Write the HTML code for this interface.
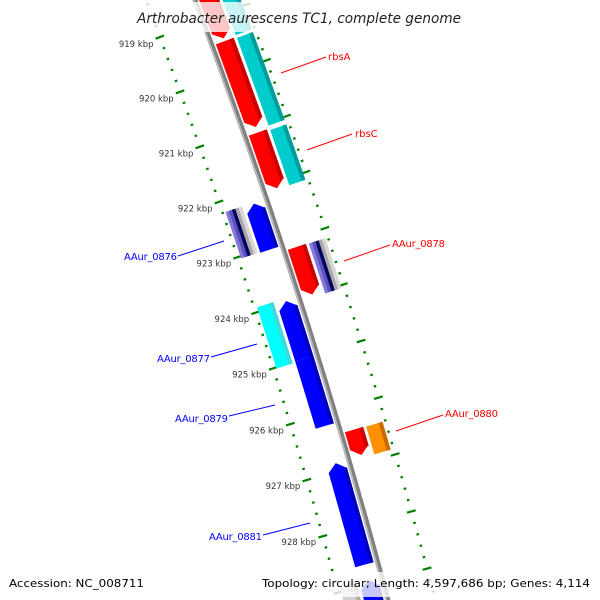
<!DOCTYPE html>
<html><head><meta charset="utf-8"><style>
html,body{margin:0;padding:0;background:#fff;width:600px;height:600px;overflow:hidden}
svg{display:block;overflow:hidden}
</style></head><body>
<svg id="map" width="600" height="600" viewBox="0 0 600 600" xmlns="http://www.w3.org/2000/svg">
<g id="backbone"></g>
<g id="rulers"></g>
<g id="features"></g>
<g id="labels" font-family="'DejaVu Sans','Liberation Sans',sans-serif" font-size="10">
  <g><line x1="281" y1="73" x2="326" y2="57" stroke="#ff0000" stroke-width="1"/><text x="328" y="60" fill="#ff0000">rbsA</text></g>
  <g><line x1="307" y1="150" x2="352" y2="134" stroke="#ff0000" stroke-width="1"/><text x="355" y="137" fill="#ff0000">rbsC</text></g>
  <g><line x1="344" y1="261" x2="390" y2="245" stroke="#ff0000" stroke-width="1"/><text x="392" y="247" fill="#ff0000" textLength="53">AAur_0878</text></g>
  <g><line x1="396" y1="431" x2="443" y2="415" stroke="#ff0000" stroke-width="1"/><text x="445" y="417" fill="#ff0000" textLength="53">AAur_0880</text></g>
  <g><line x1="178" y1="256" x2="224" y2="241" stroke="#0000ff" stroke-width="1"/><text x="177" y="260" fill="#0000ff" text-anchor="end" textLength="53">AAur_0876</text></g>
  <g><line x1="211" y1="357" x2="257" y2="344" stroke="#0000ff" stroke-width="1"/><text x="210" y="362" fill="#0000ff" text-anchor="end" textLength="53">AAur_0877</text></g>
  <g><line x1="229" y1="416" x2="275" y2="405" stroke="#0000ff" stroke-width="1"/><text x="228" y="422" fill="#0000ff" text-anchor="end" textLength="53">AAur_0879</text></g>
  <g><line x1="263" y1="535" x2="310" y2="523" stroke="#0000ff" stroke-width="1"/><text x="262" y="540" fill="#0000ff" text-anchor="end" textLength="53">AAur_0881</text></g>
</g>
<rect x="130" y="2" width="340" height="30" fill="#fff" opacity="0.78"/>
<text x="299" y="23" text-anchor="middle" font-family="'DejaVu Sans','Liberation Sans',sans-serif" font-style="italic" font-size="14" fill="#222" textLength="324" lengthAdjust="spacingAndGlyphs">Arthrobacter aurescens TC1, complete genome</text>
<rect x="255" y="572" width="342" height="25" fill="#fff" opacity="0.78"/>
<text x="9" y="587" font-family="'DejaVu Sans','Liberation Sans',sans-serif" font-size="11" fill="#000" textLength="135" lengthAdjust="spacingAndGlyphs">Accession: NC_008711</text>
<text x="590" y="587" text-anchor="end" font-family="'DejaVu Sans','Liberation Sans',sans-serif" font-size="11" fill="#000" textLength="328" lengthAdjust="spacingAndGlyphs">Topology: circular; Length: 4,597,686 bp; Genes: 4,114</text>
</svg>
<script>
// ---- data (kbp) ----
const featNames  = ['orf-top','rbsA','rbsC','AAur_0878','AAur_0880','cog-top','cog-rbsA','cog-rbsC','cog-0878','cog-0880','AAur_0876','AAur_0877','AAur_0879','AAur_0881','orf-bottom','cog-0876','cog-0877','cog-bottom'];
const featStart  = [917.5,919.45,921.1,923.15,926.4, 917.5,919.47,921.13,923.16,926.41, 922.22,923.97,925.0,926.86,928.93, 922.2,923.92,928.9];
const featEnd    = [919.4,921.0,922.1,924.0,926.85, 919.42,921.05,922.12,924.05,926.9, 923.05,925.0,926.2,928.66,931.0, 923.04,925.02,931.0];
const featStrand = [1,1,1,1,1, 1,1,1,1,1, -1,-1,-1,-1,-1, -1,-1,-1];
const featTrack  = ['F1','F1','F1','F1','F1','F2','F2','F2','F2','F2','R1','R1','R1','R1','R1','R2','R2','R2'];
const featColor  = ['red','red','red','red','red','cyan','cyan','cyan','striped','orange','blue','blue','blue','blue','blue','striped','cyan2','gray'];
const featHead   = [1,1,1,1,1, 0,0,0,0,0, 1,1,0,1,1, 0,0,0];
const tickStart = 917, tickEnd = 931, tickStep = 0.2;
const labelTicks = [919,920,921,922,923,924,925,926,927,928];

// ---- geometry ----
const CX=-5532, CY=2172, K0=919, TH0=-20.56, DEG_PER_KB=0.55;
const R_BACK=6125;
const tracks={F1:[6129,6148],F2:[6151,6168],R1:[6102,6121],R2:[6082,6099]};
const palette={red:['#ff0000','#c80000'],cyan:['#00cccc','#009c9c'],cyan2:['#00ffff','#40d8d8'],orange:['#ff9000','#c86a00'],blue:['#0000ff','#0000c0'],gray:['#cfcfcf','#a8a8a8']};
function th(kb){return (TH0+(kb-K0)*DEG_PER_KB)*Math.PI/180;}
function P(r,kb){const t=th(kb);return [CX+r*Math.cos(t),CY+r*Math.sin(t)];}
function pts(list){return list.map(p=>{const q=P(p[0],p[1]);return q[0].toFixed(2)+','+q[1].toFixed(2);}).join(' ');}
const NS='http://www.w3.org/2000/svg';
function mk(tag,attrs,parent){const e=document.createElementNS(NS,tag);for(const k in attrs)e.setAttribute(k,attrs[k]);parent.appendChild(e);return e;}

// backbone
const bb=document.getElementById('backbone');
function arc(r,k1,k2){const a=P(r,k1),b=P(r,k2);return 'M'+a[0]+','+a[1]+' A'+r+','+r+' 0 0 1 '+b[0]+','+b[1];}
const b1=mk('path',{d:arc(R_BACK,917.5,930.5),stroke:'#808080','stroke-width':5,fill:'none'},bb);


const b2=mk('path',{d:arc(R_BACK-1.5,917.5,930.5),stroke:'#bcbcbc','stroke-width':1.6,fill:'none'},bb);



// rulers
const ru=document.getElementById('rulers');
const nTicks=Math.round((tickEnd-tickStart)/tickStep);
for(let i=0;i<=nTicks;i++){
  const kb=tickStart+i*tickStep;
  const major=Math.abs(kb-Math.round(kb))<1e-6;
  [[6079,'inner'],[6171,'outer']].forEach(([r,side])=>{
    const half=major?4.5:1.3;
    const a=P(r-half,kb),b=P(r+half,kb);
    const t=mk('line',{x1:a[0],y1:a[1],x2:b[0],y2:b[1],stroke:'#008000','stroke-width':2.2},ru);
    
    
  });
}
labelTicks.forEach(kb=>{
  const p=P(6068,kb);
  const t=mk('text',{x:p[0]+4,y:p[1]+6,'text-anchor':'end','font-family':"'DejaVu Sans','Liberation Sans',sans-serif",'font-size':'8.5',fill:'#333'},ru);
  t.textContent=kb+' kbp';
  
  
});

// features
const fg=document.getElementById('features');
const HEAD=0.13;
function shape(r1,r2,k1,k2,strand,hasHead){
  const rm=(r1+r2)/2;
  if(!hasHead) return [[r1,k1],[r2,k1],[r2,k2],[r1,k2]];
  if(strand>0){const h=Math.max(k1,k2-HEAD);return [[r1,k1],[r2,k1],[r2,h],[rm,k2],[r1,h]];}
  const h=Math.min(k2,k1+HEAD);return [[rm,k1],[r2,h],[r2,k2],[r1,k2],[r1,h]];
}
for(let i=0;i<featNames.length;i++){
  const [r1,r2]=tracks[featTrack[i]];
  const k1=featStart[i],k2=featEnd[i],s=featStrand[i];
  const g=mk('g',{},fg);
  
  
  const arrow=featHead[i]===1;
  if(featColor[i]==='striped'){
    const cols=['#8478dc','#5a50b8','#00005e','#a8a8a8','#d8d8d8'];
    const w=(r2-r1)/cols.length;
    cols.forEach((c,j)=>{
      const p=mk('polygon',{points:pts(shape(r1+j*w,r1+(j+1)*w+0.3,k1,k2,s,false)),fill:c},g);
      
      
    });
  } else {
    const [c,d]=palette[featColor[i]];
    const p=mk('polygon',{points:pts(shape(r1,r2,k1,k2,s,arrow)),fill:c},g);
    
    
    const q=mk('polygon',{points:pts(shape(r2-4,r2,k1+(arrow&&s<0?HEAD*0.9:0),k2-(arrow&&s>0?HEAD*0.9:0),s,false)),fill:d},g);
    
    
  }
}
</script>
</body></html>
